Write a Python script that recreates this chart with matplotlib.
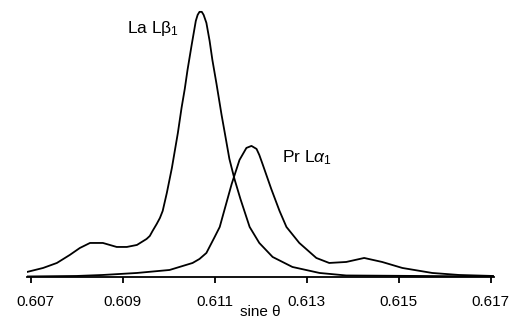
import numpy as np
import matplotlib.pyplot as plt
from matplotlib.transforms import ScaledTranslation

plt.rcParams['font.family'] = ['Liberation Sans', 'DejaVu Sans']
plt.rcParams['mathtext.fontset'] = 'custom'
plt.rcParams['mathtext.rm'] = 'Liberation Sans'
plt.rcParams['mathtext.it'] = 'Liberation Sans:italic'

# La L-beta1 scan (sine theta, relative intensity)
la_x = [0.60692, 0.60727, 0.60757, 0.60785, 0.60807, 0.60829, 0.60857, 0.60887,
        0.60909, 0.60931, 0.60952, 0.60959, 0.60965, 0.60974, 0.60981, 0.60987,
        0.60996, 0.61007, 0.61020, 0.61028, 0.61035, 0.61041, 0.61050, 0.61059,
        0.61063, 0.61067, 0.61072, 0.61076, 0.61082, 0.61089, 0.61095, 0.61104,
        0.61115, 0.61122, 0.61132, 0.61143, 0.61156, 0.61176, 0.61197, 0.61226,
        0.61269, 0.61328, 0.61386, 0.61545, 0.61705]
la_y = [5, 9, 14, 22, 29, 34, 34, 30,
        30, 32, 38, 41, 46, 53, 59, 66,
        84, 109, 144, 169, 188, 207, 232, 256,
        262, 265, 265, 262, 254, 236, 217, 193,
        162, 144, 118, 98, 78, 50, 34, 20,
        10, 4, 1.5, 1, 0.5]

# Pr L-alpha1 scan
pr_x = [0.60692, 0.60800, 0.60857, 0.60931, 0.61002, 0.61052, 0.61067, 0.61082,
        0.61100, 0.61111, 0.61117, 0.61137, 0.61154, 0.61169, 0.61180, 0.61191,
        0.61197, 0.61204, 0.61223, 0.61241, 0.61256, 0.61284, 0.61321, 0.61349,
        0.61386, 0.61425, 0.61464, 0.61508, 0.61573, 0.61631, 0.61705]
pr_y = [0.5, 1, 2, 4, 7, 14, 18, 24,
        40, 50, 60, 93, 117, 129, 131, 128,
        122, 113, 88, 66, 50, 34, 19, 14,
        15, 19, 15, 9, 4, 2, 1]

ticks = [0.607, 0.609, 0.611, 0.613, 0.615, 0.617]

fig = plt.figure(figsize=(5.27, 3.27), dpi=100)
ax = fig.add_axes([0.0512, 0.153, 0.886, 0.826])

ax.plot(la_x, la_y, color='black', lw=1.3)
ax.plot(pr_x, pr_y, color='black', lw=1.3)

ax.set_xlim(0.60692, 0.61707)
ax.set_ylim(0, 270)

for s in ['left', 'top', 'right']:
    ax.spines[s].set_visible(False)
ax.spines['bottom'].set_linewidth(1.3)
ax.set_yticks([])
ax.set_xticks(ticks)
ax.set_xticklabels(['%.3f' % t for t in ticks])
ax.tick_params(axis='x', direction='out', length=4, width=1.3, pad=9, labelsize=11)
ax.set_xlabel('sine θ', fontsize=11, labelpad=-3)

# first tick label sits a bit right of its tick in the original
lbl = ax.get_xticklabels()[0]
lbl.set_transform(lbl.get_transform() + ScaledTranslation(5 / 100, 0, fig.dpi_scale_trans))

ax.text(0.60910, 248, 'La L\u03b2$_1$', fontsize=12.5, va='center', ha='left')
ax.text(0.61247, 119, 'Pr L$\\alpha_1$', fontsize=12.5, va='center', ha='left')

fig.savefig('out.png', dpi=100)
